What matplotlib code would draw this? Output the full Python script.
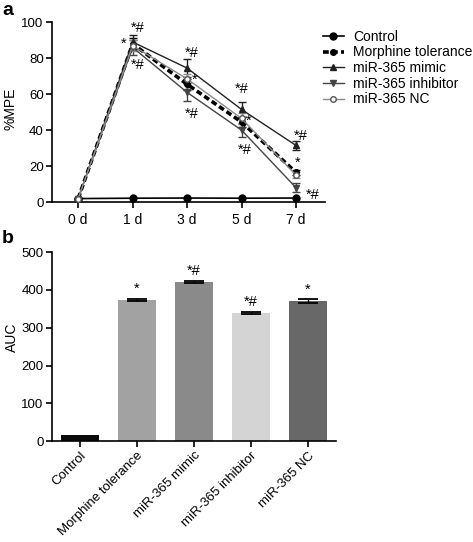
import numpy as np
import matplotlib.pyplot as plt

plt.rcParams['font.family'] = ['Liberation Sans', 'DejaVu Sans']

# panel a: %MPE over days
days = ["0 d", "1 d", "3 d", "5 d", "7 d"]
control = [2.0, 2.2, 2.3, 2.2, 2.3]
morphine = [2.0, 88, 65.5, 44.5, 16.5]
mimic = [2.0, 89, 74.5, 51.5, 31.5]
inhibitor = [2.0, 86, 61, 40, 8]
nc = [2.0, 87, 68.5, 46.5, 15]
morphine_err = [0.5, 3, 3, 3, 1.5]
mimic_err = [0.5, 4, 5, 4, 2.5]
inhibitor_err = [0.5, 4, 5, 4, 2.5]
nc_err = [0.5, 3, 3, 3, 1.5]

# panel b: AUC
groups = ["Control", "Morphine tolerance", "miR-365 mimic", "miR-365 inhibitor", "miR-365 NC"]
auc = [16, 373, 421, 339, 370]
auc_err = [0, 3, 3, 3, 5]
auc_marks = ["", "*", "*#", "*#", "*"]
bar_colors = ["#0a0a0a", "#a2a2a2", "#8a8a8a", "#d4d4d4", "#686868"]

fig = plt.figure(figsize=(4.73, 5.42), dpi=100)

# ---------------- panel a
ax1 = fig.add_axes([0.110, 0.627, 0.577, 0.332])
x = np.arange(len(days))

series = [
    ("Control", control, None, dict(color="black", marker="o", ms=5, lw=1.2)),
    ("Morphine tolerance", morphine, morphine_err,
     dict(color="black", marker="o", ms=4, lw=2.6, ls=(0, (1.6, 0.9)))),
    ("miR-365 mimic", mimic, mimic_err, dict(color="#222222", marker="^", ms=5, lw=1.0)),
    ("miR-365 inhibitor", inhibitor, inhibitor_err,
     dict(color="#444444", marker="v", ms=5, lw=1.0)),
    ("miR-365 NC", nc, nc_err,
     dict(color="#8a8a8a", marker="o", ms=4, lw=1.0, mfc="white", mec="#555555")),
]
handles = []
for name, vals, err, style in series:
    if err is not None:
        ax1.errorbar(x, vals, yerr=err, fmt="none", ecolor=style["color"], capsize=3,
                     elinewidth=1, zorder=2)
    line, = ax1.plot(x, vals, label=name, zorder=3, **style)
    handles.append(line)

ax1.set_xlim(-0.48, 4.53)
ax1.set_ylim(0, 100)
ax1.set_xticks(x)
ax1.set_xticklabels(days, fontsize=10)
ax1.set_yticks([0, 20, 40, 60, 80, 100])
ax1.tick_params(axis="y", labelsize=9.5, direction="out", length=4, width=1.2, pad=2)
ax1.tick_params(axis="x", direction="out", length=4, width=1.2)
ax1.spines["top"].set_visible(False)
ax1.spines["right"].set_visible(False)
ax1.spines["left"].set_linewidth(1.2)
ax1.spines["bottom"].set_linewidth(1.2)
ax1.set_ylabel("%MPE", fontsize=10)
ax1.yaxis.set_label_coords(-0.125, 0.52)

marks_a = [(1.1, 97, "*#"), (0.83, 88, "*"), (1.1, 76, "*#"),
           (2.08, 83, "*#"), (2.13, 68, "*"), (2.08, 49, "*#"),
           (3.0, 63, "*#"), (3.13, 45, "*"), (3.05, 29, "*#"),
           (4.08, 37, "*#"), (4.02, 22, "*"), (4.3, 4, "*#")]
for mx, my, mt in marks_a:
    ax1.text(mx, my, mt, fontsize=10.5, ha="center", va="center")

ax1.legend(handles=handles, loc="upper left", bbox_to_anchor=(0.668, 0.958),
           bbox_transform=fig.transFigure, frameon=False, fontsize=10,
           handlelength=1.5, handletextpad=0.7, labelspacing=0.12, borderpad=0)

fig.text(0.004, 0.997, "a", fontsize=14, fontweight="bold", va="top")

# ---------------- panel b
ax2 = fig.add_axes([0.110, 0.186, 0.600, 0.349])
xb = np.arange(len(groups))
ax2.bar(xb, auc, width=0.67, color=bar_colors)
ax2.errorbar(xb[1:], auc[1:], yerr=auc_err[1:], fmt="none", ecolor="black",
             capsize=7, elinewidth=1, capthick=1.3)
for i in range(len(groups)):
    if auc_marks[i]:
        ax2.text(xb[i], auc[i] + auc_err[i] + 8, auc_marks[i], fontsize=10.5,
                 ha="center", va="bottom")

ax2.set_xlim(-0.49, 4.49)
ax2.set_ylim(0, 500)
ax2.set_yticks([0, 100, 200, 300, 400, 500])
ax2.set_xticks(xb)
ax2.set_xticklabels(groups, rotation=45, ha="right", rotation_mode="anchor", fontsize=9.5)
ax2.tick_params(axis="y", labelsize=9.5, direction="out", length=4, width=1.2, pad=2)
ax2.tick_params(axis="x", direction="out", length=4, width=1.2, pad=2)
ax2.spines["top"].set_visible(False)
ax2.spines["right"].set_visible(False)
ax2.spines["left"].set_linewidth(1.2)
ax2.spines["bottom"].set_linewidth(1.2)
ax2.set_ylabel("AUC", fontsize=10)
ax2.yaxis.set_label_coords(-0.118, 0.55)

fig.text(0.004, 0.575, "b", fontsize=14, fontweight="bold", va="top")

fig.savefig("out.png", dpi=100)
